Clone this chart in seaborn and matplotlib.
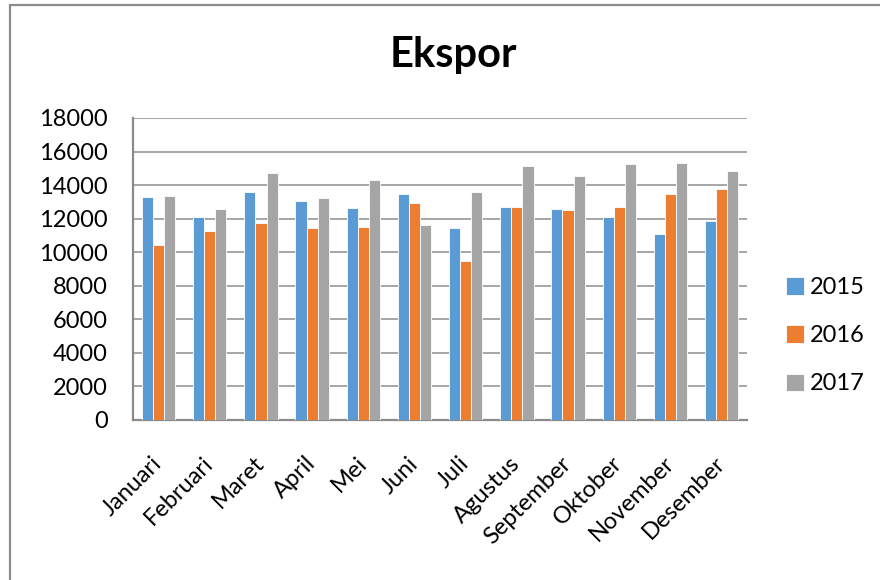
import matplotlib
matplotlib.use("Agg")
import matplotlib.pyplot as plt
import matplotlib.patches as mpatches
import seaborn as sns
import pandas as pd

# data
months = ["Januari", "Februari", "Maret", "April", "Mei", "Juni",
          "Juli", "Agustus", "September", "Oktober", "November", "Desember"]
years = ["2015", "2016", "2017"]
ekspor_2015 = [13310, 12120, 13610, 13070, 12660, 13470, 11420, 12680, 12560, 12080, 11070, 11860]
ekspor_2016 = [10430, 11270, 11760, 11420, 11480, 12930, 9480, 12700, 12540, 12700, 13470, 13790]
ekspor_2017 = [13350, 12580, 14700, 13210, 14300, 11620, 13570, 15140, 14540, 15240, 15300, 14820]
colors = ["#5B9BD5", "#ED7D31", "#A5A5A5"]

df = pd.DataFrame({
    "bulan": months * 3,
    "tahun": [y for y in years for _ in months],
    "nilai": ekspor_2015 + ekspor_2016 + ekspor_2017,
})

sns.set_style("white")
plt.rcParams["font.family"] = ["Lato", "DejaVu Sans"]
plt.rcParams["text.color"] = "black"

fig = plt.figure(figsize=(8.8, 5.8), dpi=100)
ax = fig.add_axes([0.1511, 0.2759, 0.698, 0.5207])

sns.barplot(data=df, x="bulan", y="nilai", hue="tahun", palette=colors,
            width=0.653, edgecolor="white", linewidth=0.6, saturation=1,
            ax=ax, zorder=3)

ax.set_ylim(0, 18000)
ax.set_xlim(-0.5, 11.5)
ax.set_yticks(range(0, 18001, 2000))
ax.yaxis.grid(True, color="#A6A6A6", linewidth=1.4, zorder=0)
ax.set_axisbelow(True)
ax.set_xlabel("")
ax.set_ylabel("")

for side in ["top", "right"]:
    ax.spines[side].set_visible(False)
for side in ["left", "bottom"]:
    ax.spines[side].set_color("#8A8A8A")
    ax.spines[side].set_linewidth(1.6)

ax.tick_params(axis="y", length=0, pad=18, labelsize=17, labelcolor="black")
ax.tick_params(axis="x", length=0, pad=29, labelsize=17, labelcolor="black")
plt.setp(ax.get_xticklabels(), rotation=45, ha="right", va="center",
         rotation_mode="anchor")

ax.legend(title=None, loc="center left", bbox_to_anchor=(0.88, 0.421),
          bbox_transform=fig.transFigure, frameon=False, fontsize=17,
          handlelength=0.75, handleheight=0.75, handletextpad=0.25,
          labelspacing=1.15, borderpad=0, labelcolor="black")

fig.text(0.515, 0.905, "Ekspor", ha="center", va="center",
         fontsize=30, fontweight="bold", color="black")

# outer chart border (only top and left visible in the crop)
border = mpatches.Rectangle((10 / 880, -0.1), 2.0, 1.1 - 5.5 / 580,
                            transform=fig.transFigure, fill=False,
                            edgecolor="#8C8C8C", linewidth=1.6)
fig.patches.append(border)

fig.savefig("out.png", dpi=100)
